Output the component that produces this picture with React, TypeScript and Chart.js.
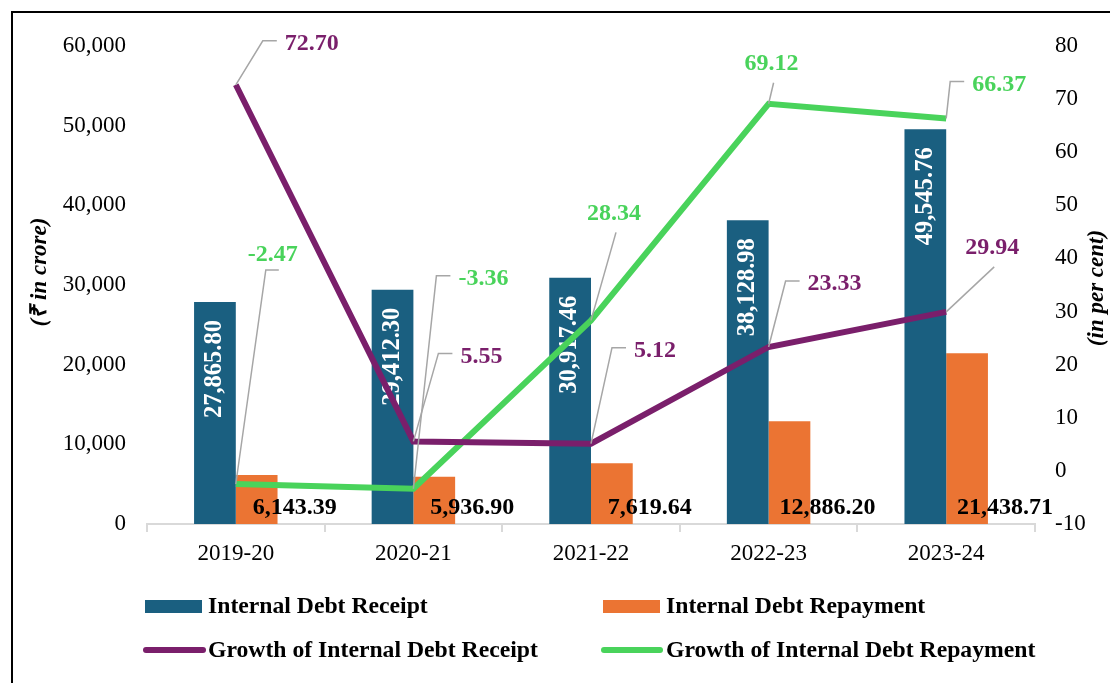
import { useEffect, useRef } from 'react';
import { Chart, registerables } from 'chart.js';

Chart.register(...registerables);

const categories = ['2019-20', '2020-21', '2021-22', '2022-23', '2023-24'];
const receipt = [27865.8, 29412.3, 30917.46, 38128.98, 49545.76];
const repayment = [6143.39, 5936.9, 7619.64, 12886.2, 21438.71];
const growthReceipt = [72.7, 5.55, 5.12, 23.33, 29.94];
const growthRepayment = [-2.47, -3.36, 28.34, 69.12, 66.37];

const seriesNames = [
  'Internal Debt Receipt',
  'Internal Debt Repayment',
  'Growth of Internal Debt Receipt',
  'Growth of Internal Debt Repayment',
];
const leftAxisTitle = '(₹ in crore)';
const rightAxisTitle = '(in per cent)';

// label placement (offset of label centre from its point) and leader kind
const receiptGrowthLabelOffsets: [number, number, string][] = [
  [76, -41, 'side'],
  [68, -85, 'side'],
  [64, -93, 'side'],
  [66, -63, 'side'],
  [46, -64, 'bottom'],
];
const repaymentGrowthLabelOffsets: [number, number, string][] = [
  [37, -229, 'under'],
  [70, -210, 'side'],
  [23, -107, 'bottom'],
  [3, -40, 'bottom'],
  [53, -34, 'side'],
];

const BLUE = '#1A5F80';
const ORANGE = '#EB7433';
const PURPLE = '#7A1F6B';
const GREEN = '#49D35B';
const FONT = '"Liberation Serif", "Times New Roman", serif';

const fmt = (v: number) =>
  v.toLocaleString('en-US', { minimumFractionDigits: 2, maximumFractionDigits: 2 });

const labelPlugin = {
  id: 'customLabels',
  afterDatasetDraw(chart: any, args: any) {
    const ctx = chart.ctx;
    const i = args.index;
    const meta = args.meta;
    if (i === 0) {
      meta.data.forEach((bar: any, j: number) => {
        ctx.save();
        ctx.translate(bar.x, bar.y + 18);
        ctx.rotate(-Math.PI / 2);
        ctx.font = `bold 24.5px ${FONT}`;
        ctx.fillStyle = '#ffffff';
        ctx.textAlign = 'right';
        ctx.textBaseline = 'middle';
        ctx.fillText(fmt(receipt[j]), 0, 0);
        ctx.restore();
      });
    } else if (i === 1) {
      meta.data.forEach((bar: any, j: number) => {
        ctx.save();
        ctx.font = `bold 24px ${FONT}`;
        ctx.fillStyle = '#000000';
        ctx.textAlign = 'center';
        ctx.textBaseline = 'middle';
        ctx.fillText(fmt(repayment[j]), bar.x + 38, chart.chartArea.bottom - 16);
        ctx.restore();
      });
    }
  },
  afterDatasetsDraw(chart: any) {
    const ctx = chart.ctx;
    const drawLineLabels = (
      dsIndex: number,
      values: number[],
      offsets: [number, number, string][],
      color: string
    ) => {
      const meta = chart.getDatasetMeta(dsIndex);
      meta.data.forEach((pt: any, j: number) => {
        const [dx, dy, kind] = offsets[j];
        const text = values[j].toFixed(2);
        ctx.save();
        ctx.font = `bold 24px ${FONT}`;
        const w = ctx.measureText(text).width;
        const cx = pt.x + dx;
        const cy = pt.y + dy;
        const left = cx - w / 2;
        ctx.strokeStyle = '#A6A6A6';
        ctx.lineWidth = 1.5;
        ctx.beginPath();
        ctx.moveTo(pt.x, pt.y);
        if (kind === 'side') {
          ctx.lineTo(left - 22, cy - 3);
          ctx.lineTo(left - 8, cy - 3);
        } else if (kind === 'under') {
          ctx.lineTo(left + 18, cy + 15);
          ctx.lineTo(left + 31, cy + 15);
        } else {
          ctx.lineTo(cx + 2, cy + 19);
        }
        ctx.stroke();
        ctx.fillStyle = color;
        ctx.textAlign = 'center';
        ctx.textBaseline = 'middle';
        ctx.fillText(text, cx, cy);
        ctx.restore();
      });
    };
    drawLineLabels(2, growthReceipt, receiptGrowthLabelOffsets, PURPLE);
    drawLineLabels(3, growthRepayment, repaymentGrowthLabelOffsets, GREEN);
  },
  afterDraw(chart: any) {
    const ctx = chart.ctx;
    const ds = chart.data.datasets;
    ctx.save();
    // axis titles (both read bottom-to-top)
    ctx.font = `italic bold 23px ${FONT}`;
    ctx.fillStyle = '#000';
    ctx.textAlign = 'center';
    ctx.textBaseline = 'middle';
    ctx.save();
    ctx.translate(40, 272);
    ctx.rotate(-Math.PI / 2);
    ctx.fillText(leftAxisTitle, 0, 0);
    ctx.restore();
    ctx.save();
    ctx.translate(1097, 288);
    ctx.rotate(-Math.PI / 2);
    ctx.fillText(rightAxisTitle, 0, 0);
    ctx.restore();

    // legend
    ctx.font = `bold 23.7px ${FONT}`;
    ctx.textAlign = 'left';
    ctx.textBaseline = 'alphabetic';
    ctx.fillStyle = ds[0].backgroundColor;
    ctx.fillRect(145, 600, 57, 13);
    ctx.fillStyle = ds[1].backgroundColor;
    ctx.fillRect(603, 600, 57, 13);
    ctx.fillStyle = '#000';
    ctx.fillText(ds[0].label, 208, 613);
    ctx.fillText(ds[1].label, 666, 613);
    ctx.lineCap = 'round';
    ctx.lineWidth = 6;
    ctx.strokeStyle = ds[2].borderColor;
    ctx.beginPath();
    ctx.moveTo(146, 650);
    ctx.lineTo(203, 650);
    ctx.stroke();
    ctx.strokeStyle = ds[3].borderColor;
    ctx.beginPath();
    ctx.moveTo(604, 650);
    ctx.lineTo(660, 650);
    ctx.stroke();
    ctx.fillStyle = '#000';
    ctx.fillText(ds[2].label, 208, 657);
    ctx.fillText(ds[3].label, 666, 657);
    ctx.restore();
  },
};

export default function App() {
  const ref = useRef<HTMLCanvasElement>(null);
  useEffect(() => {
    document.body.style.margin = '0';
    const tickFont = { family: FONT, size: 23 };
    const chart = new Chart(ref.current as HTMLCanvasElement, {
      type: 'bar',
      data: {
        labels: categories,
        datasets: [
          {
            type: 'bar',
            label: seriesNames[0],
            data: receipt,
            backgroundColor: BLUE,
            yAxisID: 'y',
            order: 1,
            categoryPercentage: 0.47,
            barPercentage: 1,
          },
          {
            type: 'bar',
            label: seriesNames[1],
            data: repayment,
            backgroundColor: ORANGE,
            yAxisID: 'y',
            order: 1,
            categoryPercentage: 0.47,
            barPercentage: 1,
          },
          {
            type: 'line',
            label: seriesNames[2],
            data: growthReceipt,
            borderColor: PURPLE,
            backgroundColor: PURPLE,
            borderWidth: 6,
            pointRadius: 0,
            yAxisID: 'y1',
            order: 0,
          },
          {
            type: 'line',
            label: seriesNames[3],
            data: growthRepayment,
            borderColor: GREEN,
            backgroundColor: GREEN,
            borderWidth: 6,
            pointRadius: 0,
            yAxisID: 'y1',
            order: 0,
          },
        ] as any,
      },
      options: {
        responsive: false,
        animation: false,
        layout: { padding: { top: 46, left: 0, right: 0, bottom: 109 } },
        plugins: {
          legend: { display: false },
          tooltip: { enabled: false },
        },
        scales: {
          x: {
            offset: true,
            grid: {
              display: true,
              drawOnChartArea: false,
              drawTicks: true,
              tickLength: 8,
              color: '#D9D9D9',
              lineWidth: 2,
              offset: true,
            },
            border: { display: true, color: '#D9D9D9', width: 2 },
            ticks: { font: tickFont, color: '#000', padding: 8, maxRotation: 0 },
            afterFit: (s: any) => {
              s.height = 50;
            },
          },
          y: {
            position: 'left',
            min: 0,
            max: 60000,
            ticks: { stepSize: 10000, font: tickFont, color: '#000', padding: 21 },
            grid: { display: false, drawTicks: false },
            border: { display: false },
            afterFit: (s: any) => {
              s.width = 147;
            },
          },
          y1: {
            position: 'right',
            min: -10,
            max: 80,
            ticks: { stepSize: 10, font: tickFont, color: '#000', padding: 20 },
            grid: { display: false, drawTicks: false },
            border: { display: false },
            afterFit: (s: any) => {
              s.width = 75;
            },
          },
        },
      } as any,
      plugins: [labelPlugin],
    });
    return () => chart.destroy();
  }, []);

  return (
    <div
      style={{
        position: 'relative',
        width: 1110,
        height: 683,
        overflow: 'hidden',
        background: '#fff',
      }}
    >
      <canvas
        ref={ref}
        width={1110}
        height={683}
        style={{ position: 'absolute', left: 0, top: 0 }}
      />
      <div
        style={{
          position: 'absolute',
          left: 11,
          top: 11,
          width: 1200,
          height: 800,
          border: '2px solid #000',
          pointerEvents: 'none',
        }}
      />
    </div>
  );
}
